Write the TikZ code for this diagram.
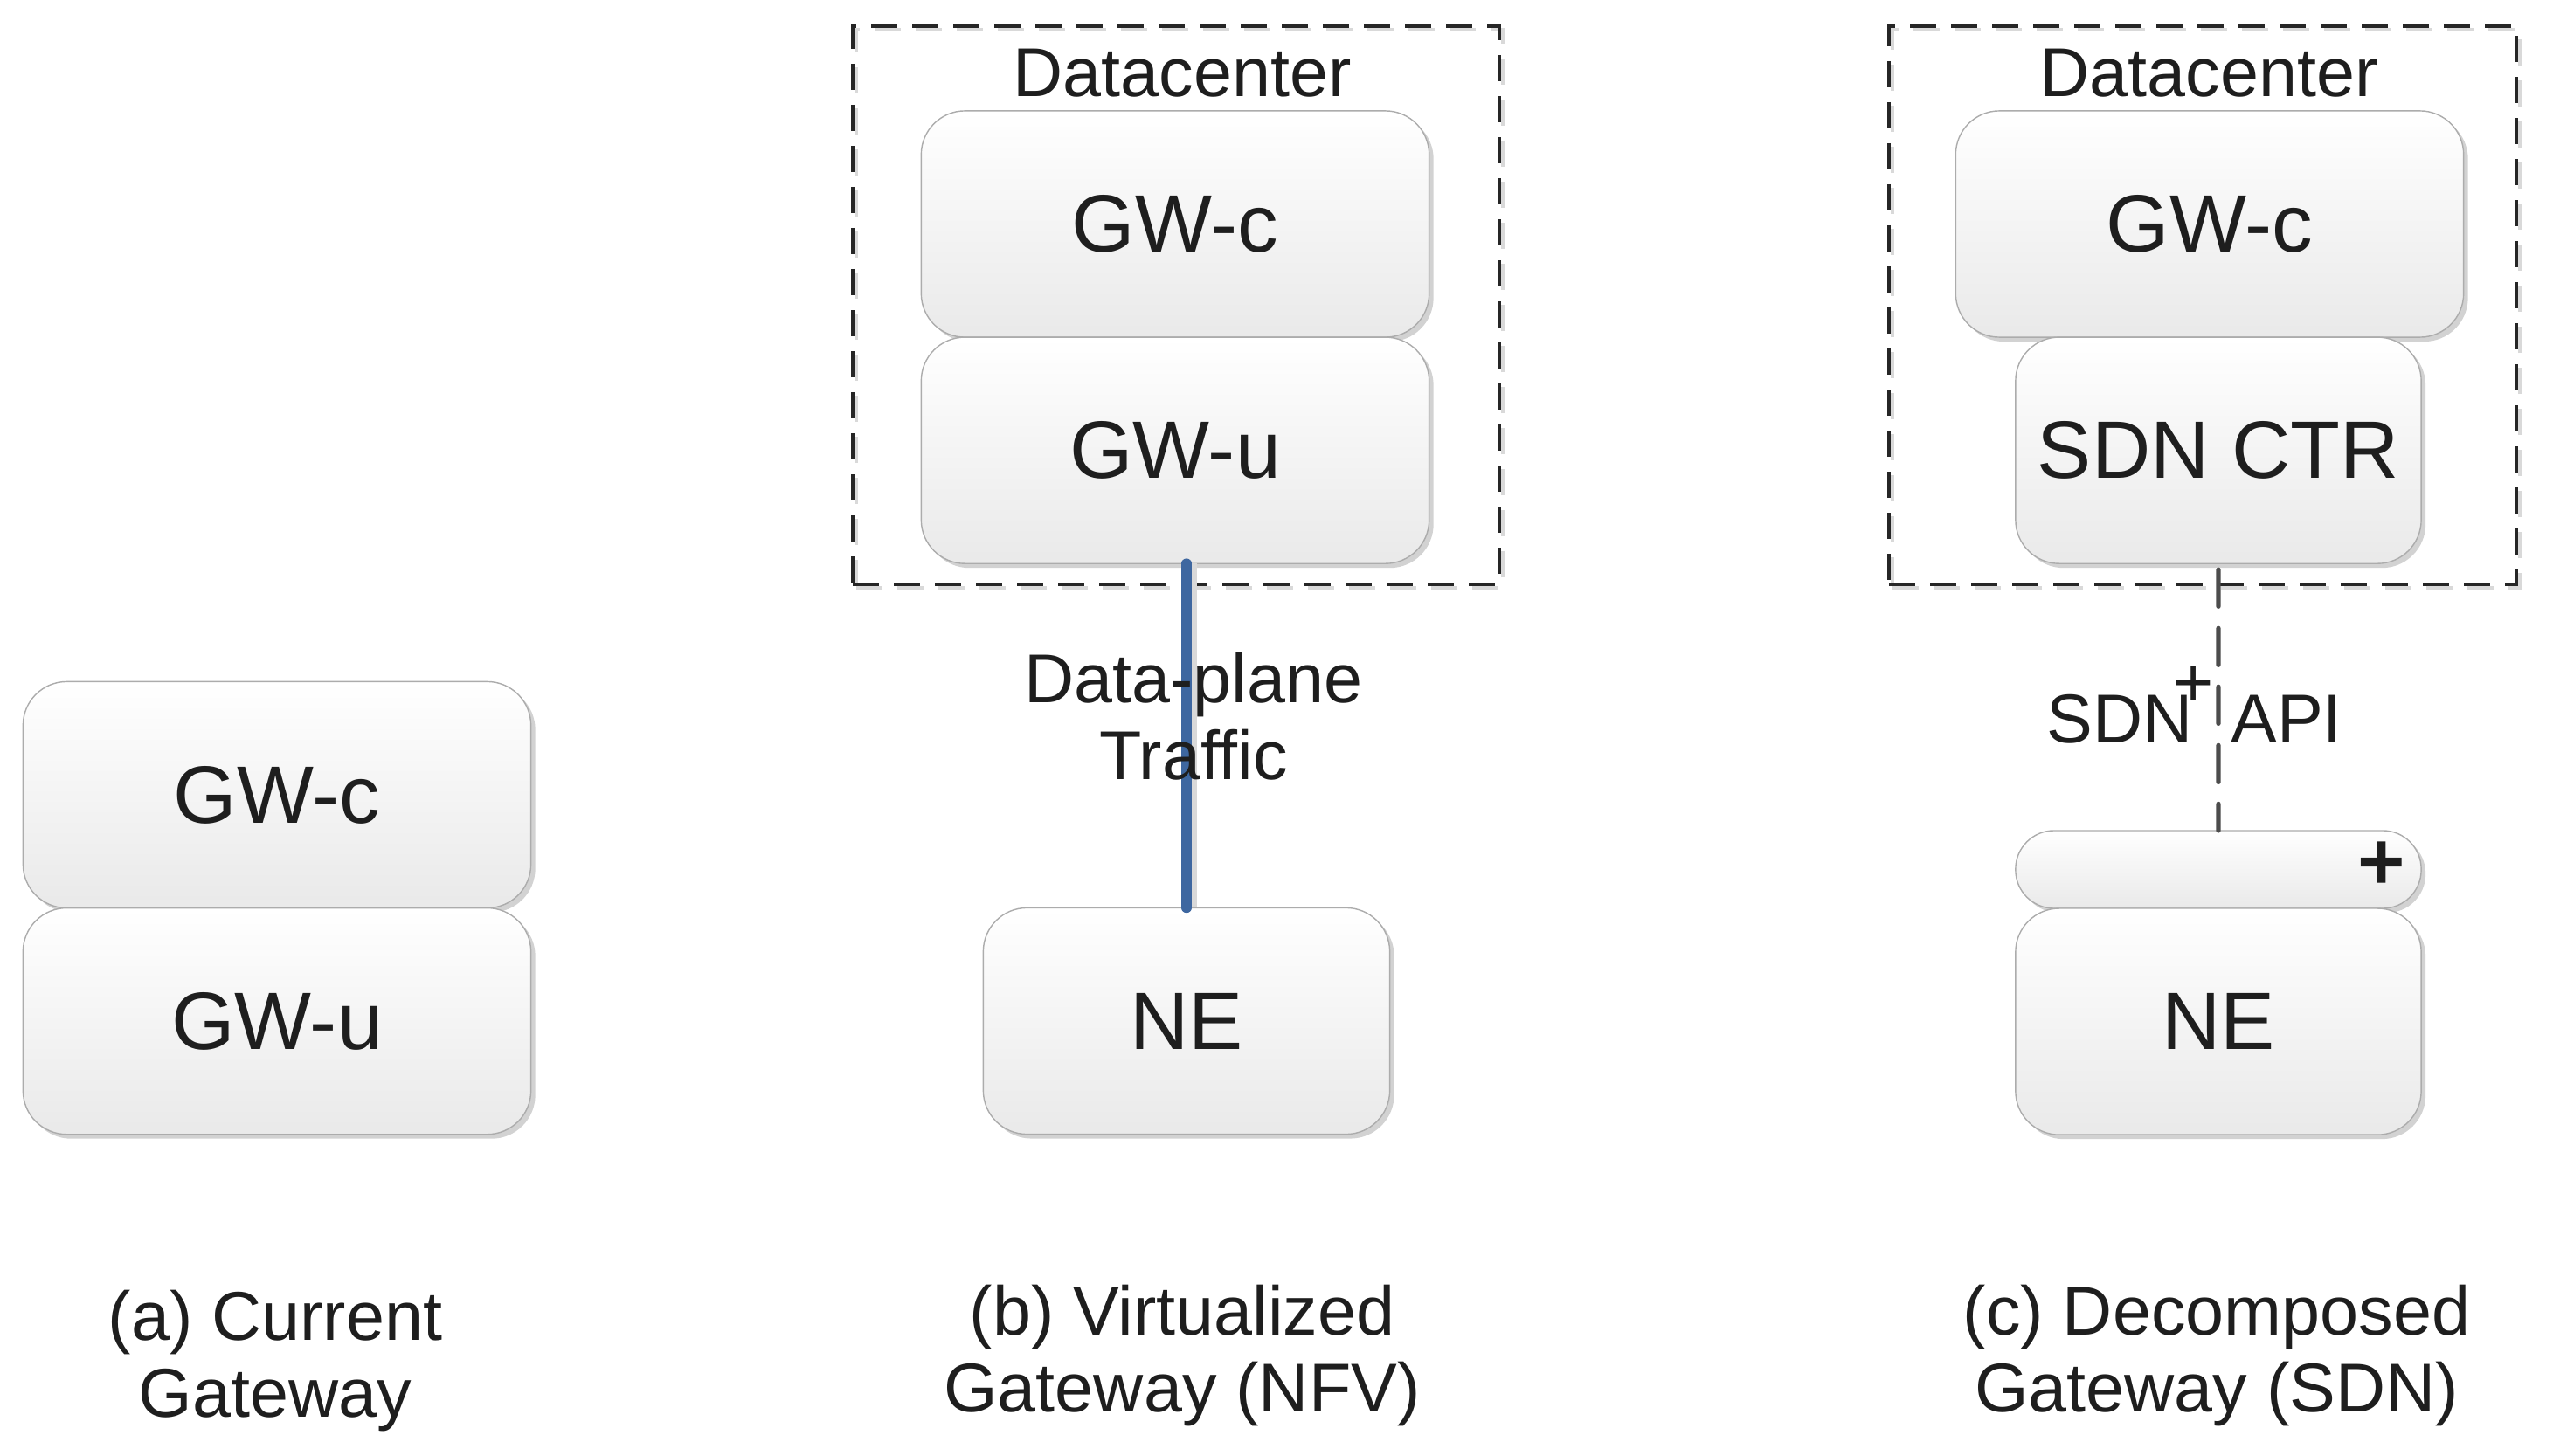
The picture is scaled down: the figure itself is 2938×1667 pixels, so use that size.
\documentclass[tikz,border=0pt]{standalone}
\usepackage{fontspec}
\setmainfont{Liberation Sans}
\usepackage{tikz}
\usetikzlibrary{positioning}
\usetikzlibrary{shadows}
\definecolor{dpblue}{RGB}{62,103,160}
\definecolor{txt}{RGB}{30,30,30}
\newcommand{\gwfont}{\fontsize{26.5}{31}\selectfont}
\tikzset{
	every node/.style = {font=\fontsize{22.5}{25}\selectfont, text=txt},
	box/.style = {draw=gray!65, line width=0.4pt, rounded corners=0.5cm,
		top color=white, bottom color=gray!17, inner sep=0pt, outer sep=0pt,
		minimum width=5.81cm, minimum height=2.59cm, font=\gwfont,
		drop shadow={shadow xshift=0.05cm, shadow yshift=-0.05cm, fill=gray!35, opacity=1}},
	dcbox/.style = {draw=black!85, line width=1.1pt, dash pattern=on 0.3cm off 0.17cm,
		minimum height=6.39cm, inner sep=0pt, outer sep=0pt},
	caption/.style = {align=center},
	dataline/.style = {draw=dpblue, line width=3.3pt, line cap=round,
		preaction={draw=gray!30, line width=3.3pt, transform canvas={xshift=1.8pt}}},
	apiline/.style = {draw=black!70, line width=1.5pt, line cap=round, dash pattern=on 0.42cm off 0.25cm}
}
\begin{document}
\begin{tikzpicture}[x=0.01cm, y=-0.01cm]
	\useasboundingbox (0,0) rectangle (2938,1667);
	% (a) current gateway
	\node[box] (gwcA) at (317,910) {GW-c};
	\node[box, below=0pt of gwcA] (gwuA) {GW-u};
	\node[caption] (capA) at (315,1558) {(a) Current\\Gateway};
	% (b) virtualized gateway
	\node[dcbox, draw=gray!30, minimum width=7.40cm] (dcBs) at (1350,353.5) {};
	\node[dcbox, minimum width=7.40cm] (dcB) at (1346,349.5) {};
	\node (dcBt) at (1353,84) {Datacenter};
	\node[box] (gwcB) at (1345,256.5) {GW-c};
	\node[box, below=0pt of gwcB] (gwuB) {GW-u};
	\node[box, minimum width=4.65cm] (neB) at (1358,1169) {NE};
	\draw[dataline] (neB.north |- gwuB.south) -- (neB.north);
	\node[align=center] (dpB) at (1366,820) {Data-plane\\Traffic};
	\node[caption] (capB) at (1353,1552) {(b) Virtualized\\Gateway (NFV)};
	% (c) decomposed gateway
	\node[dcbox, draw=gray!30, minimum width=7.18cm] (dcCs) at (2525,353.5) {};
	\node[dcbox, minimum width=7.18cm] (dcC) at (2521,349.5) {};
	\node (dcCt) at (2528,84) {Datacenter};
	\node[box] (gwcC) at (2529,256.5) {GW-c};
	\node[box, minimum width=4.64cm, below=0pt of gwcC, xshift=0.1cm] (ctrC) {SDN CTR};
	\node[box, minimum width=4.64cm, minimum height=0.89cm, rounded corners=0.44cm] (plugC) at (2539,995.5) {};
	\node[box, minimum width=4.64cm, below=0pt of plugC] (neC) {NE};
	\node[font=\gwfont\bfseries] (plusC) at (2726,991) {+};
	\coordinate (apiTop) at ([yshift=-2pt]ctrC.south);
	\draw[apiline] (apiTop) -- (plugC.north);
	\node[anchor=east] (sdnC) at (2522,823) {SDN};
	\node[anchor=west] (apiC) at (2541,823) {API};
	\node (plusApi) at (2511,786) {+};
	\node[caption] (capC) at (2537,1552) {(c) Decomposed\\Gateway (SDN)};
\end{tikzpicture}
\end{document}
